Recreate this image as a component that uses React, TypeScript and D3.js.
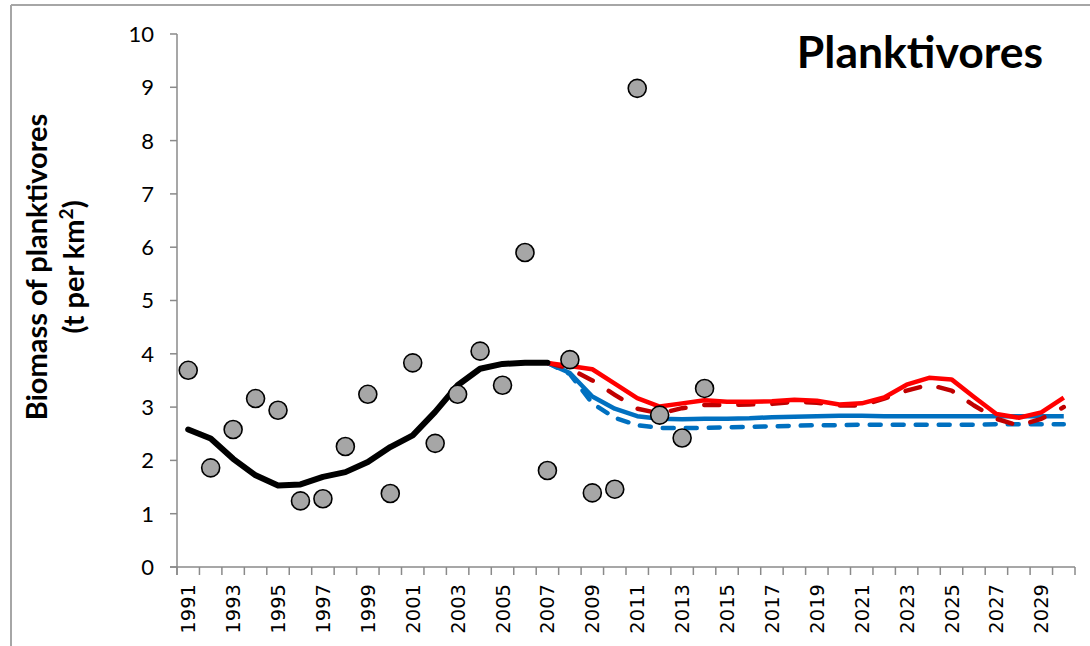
import React from "react";
import * as d3 from "d3";

const years = [
  "1991","1992","1993","1994","1995","1996","1997","1998","1999","2000",
  "2001","2002","2003","2004","2005","2006","2007","2008","2009","2010",
  "2011","2012","2013","2014","2015","2016","2017","2018","2019","2020",
  "2021","2022","2023","2024","2025","2026","2027","2028","2029","2030",
];

const observedYears = years.slice(0, 24); // 1991-2014
const observed = [3.69, 1.86, 2.58, 3.16, 2.94, 1.24, 1.28, 2.26, 3.24, 1.38, 3.83, 2.32, 3.24, 4.05, 3.41, 5.9, 1.81, 3.89, 1.39, 1.46, 8.98, 2.85, 2.42, 3.35];

const hindcastYears = years.slice(0, 17); // 1991-2007
const hindcast = [2.58, 2.41, 2.03, 1.72, 1.53, 1.55, 1.69, 1.78, 1.97, 2.25, 2.47, 2.91, 3.41, 3.72, 3.81, 3.83, 3.83];

const projYears = years.slice(16); // 2007-2030
const redSolid = [3.83, 3.77, 3.71, 3.44, 3.17, 3.01, 3.07, 3.13, 3.1, 3.1, 3.11, 3.14, 3.12, 3.05, 3.07, 3.18, 3.42, 3.55, 3.52, 3.19, 2.87, 2.8, 2.9, 3.18];
const darkRedDashed = [3.83, 3.72, 3.5, 3.23, 2.97, 2.88, 2.98, 3.04, 3.04, 3.05, 3.06, 3.1, 3.08, 3.03, 3.03, 3.16, 3.31, 3.42, 3.31, 3.03, 2.78, 2.65, 2.78, 3.0];
const blueSolid = [3.83, 3.64, 3.2, 2.97, 2.83, 2.78, 2.77, 2.78, 2.78, 2.79, 2.81, 2.82, 2.83, 2.84, 2.84, 2.83, 2.83, 2.83, 2.83, 2.83, 2.83, 2.83, 2.83, 2.83];
const blueDashed = [3.83, 3.62, 3.07, 2.8, 2.66, 2.61, 2.61, 2.61, 2.62, 2.63, 2.64, 2.65, 2.66, 2.66, 2.67, 2.67, 2.67, 2.67, 2.67, 2.67, 2.68, 2.68, 2.68, 2.68];

const yTicks = [0, 1, 2, 3, 4, 5, 6, 7, 8, 9, 10];
const xTickLabels = years.filter((_, i) => i % 2 === 0);

const W = 1090;
const H = 646;

export default function App() {
  const x = d3.scaleBand<string>().domain(years).range([177, 1075]).padding(0);
  const bw = x.bandwidth();
  const cx = (yr: string) => (x(yr) as number) + bw / 2;
  const y = d3.scaleLinear().domain([0, 10]).range([567, 34]);

  const mk = (ys: string[], vs: number[]) =>
    d3
      .line<number>()
      .x((_, i) => cx(ys[i]))
      .y((v) => y(v))(vs) as string;

  const axisColor = "#8a8a8a";
  const boundaries = years.map((yr) => x(yr) as number).concat([x.range()[1]]);

  return (
    <svg
      width={W}
      height={H}
      style={{ position: "absolute", left: 0, top: 0, background: "#fff" }}
    >
      <rect x={0} y={0} width={W} height={H} fill="#fff" />
      {/* outer frame */}
      <line x1={11} y1={5} x2={W} y2={5} stroke="#a6a6a6" strokeWidth={2} />
      <line x1={11} y1={5} x2={11} y2={H} stroke="#a6a6a6" strokeWidth={2} />

      {/* y axis */}
      <line x1={177} y1={y(10)} x2={177} y2={y(0) + 8} stroke={axisColor} strokeWidth={1.5} />
      {yTicks.map((t) => (
        <g key={t}>
          <line x1={170} x2={177} y1={y(t)} y2={y(t)} stroke={axisColor} strokeWidth={1.5} />
          <text
            x={154}
            y={y(t)}
            dy="0.36em"
            textAnchor="end"
            fontFamily="Lato"
            fontSize={22}
            fill="#000"
          >
            {t}
          </text>
        </g>
      ))}

      {/* x axis */}
      <line x1={170} x2={1075} y1={y(0)} y2={y(0)} stroke={axisColor} strokeWidth={1.5} />
      {boundaries.map((b, i) => (
        <line key={i} x1={b} x2={b} y1={y(0)} y2={y(0) + 8} stroke={axisColor} strokeWidth={1.5} />
      ))}
      {xTickLabels.map((yr) => (
        <text
          key={yr}
          transform={`translate(${cx(yr)},584) rotate(-90)`}
          dy="0.36em"
          textAnchor="end"
          fontFamily="DejaVu Sans"
          fontSize={19.5}
          fill="#000"
        >
          {yr}
        </text>
      ))}

      {/* y axis title */}
      <text
        transform="translate(47,267) rotate(-90)"
        textAnchor="middle"
        fontFamily="Lato"
        fontWeight="bold"
        fontSize={29}
        fill="#000"
      >
        Biomass of planktivores
      </text>
      <text
        transform="translate(84,267) rotate(-90)"
        textAnchor="middle"
        fontFamily="Lato"
        fontWeight="bold"
        fontSize={29}
        fill="#000"
      >
        (t per km
        <tspan baselineShift="super" fontSize={19}>2</tspan>)
      </text>

      {/* title */}
      <text x={920} y={68} textAnchor="middle" fontFamily="Lato" fontWeight="bold" fontSize={44.5} fill="#000">
        Planktivores
      </text>

      {/* projection lines */}
      <path d={mk(projYears, blueDashed)} fill="none" stroke="#0070C0" strokeWidth={4.5} strokeDasharray="11 12" strokeLinecap="round" strokeLinejoin="round" />
      <path d={mk(projYears, blueSolid)} fill="none" stroke="#0070C0" strokeWidth={4.5} strokeLinejoin="round" />
      <path d={mk(projYears, darkRedDashed)} fill="none" stroke="#C00000" strokeWidth={4.5} strokeDasharray="15 19" strokeLinecap="round" strokeLinejoin="round" />
      <path d={mk(projYears, redSolid)} fill="none" stroke="#FF0000" strokeWidth={4.5} strokeLinejoin="round" />

      {/* hindcast */}
      <path d={mk(hindcastYears, hindcast)} fill="none" stroke="#000" strokeWidth={6} strokeLinejoin="round" strokeLinecap="round" />

      {/* observations */}
      {observed.map((v, i) => (
        <circle key={i} cx={cx(observedYears[i])} cy={y(v)} r={9} fill="#A6A6A6" stroke="#000" strokeWidth={1.6} />
      ))}
    </svg>
  );
}
